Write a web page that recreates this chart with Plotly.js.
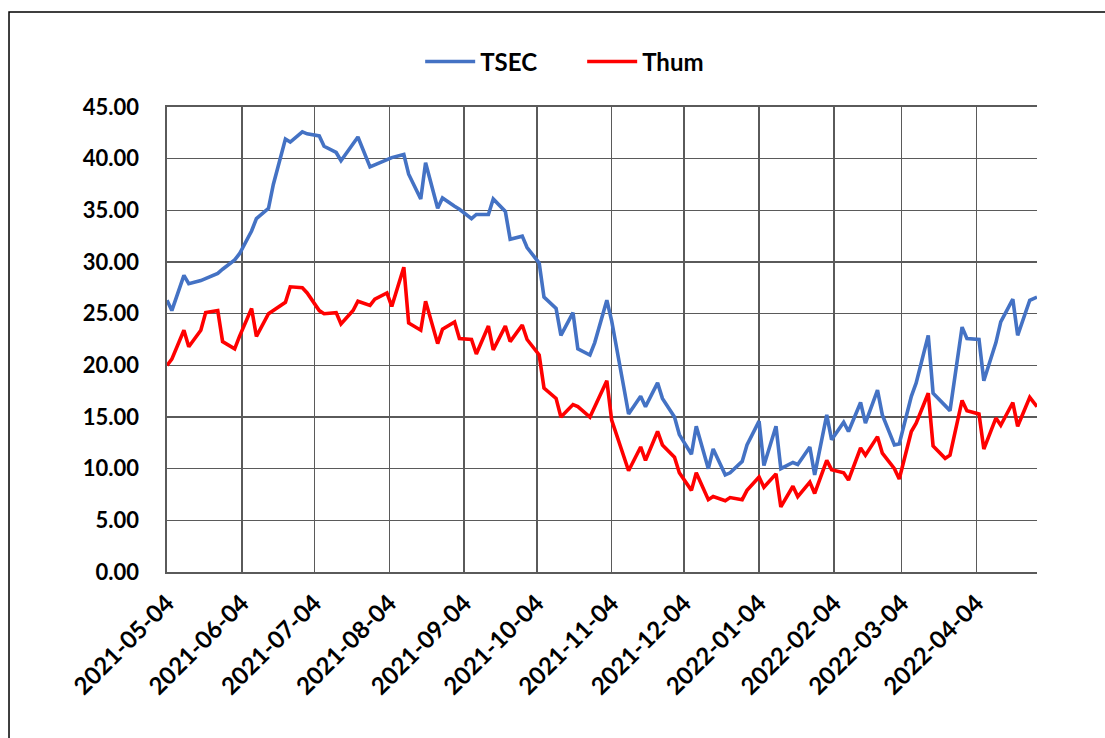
<!DOCTYPE html>
<html>
<head>
<meta charset="utf-8">
<script src="https://cdn.plot.ly/plotly-3.0.1.min.js"></script>
<style>
html, body { margin: 0; padding: 0; background: #ffffff; }
#chart { width: 1105px; height: 738px; }
</style>
</head>
<body>
<div id="chart"></div>
<script>
const dates = [
  "2021-05-04","2021-05-06","2021-05-11","2021-05-13","2021-05-18","2021-05-20","2021-05-25","2021-05-27",
  "2021-06-01","2021-06-03","2021-06-08","2021-06-10","2021-06-15","2021-06-17","2021-06-22","2021-06-24","2021-06-29",
  "2021-07-01","2021-07-06","2021-07-08","2021-07-13","2021-07-15","2021-07-20","2021-07-22","2021-07-27","2021-07-29",
  "2021-08-03","2021-08-05","2021-08-10","2021-08-12","2021-08-17","2021-08-19","2021-08-24","2021-08-26","2021-08-31",
  "2021-09-02","2021-09-07","2021-09-09","2021-09-14","2021-09-16","2021-09-21","2021-09-23","2021-09-28","2021-09-30",
  "2021-10-05","2021-10-07","2021-10-12","2021-10-14","2021-10-19","2021-10-21","2021-10-26","2021-10-28",
  "2021-11-02","2021-11-04","2021-11-09","2021-11-11","2021-11-16","2021-11-18","2021-11-23","2021-11-25","2021-11-30",
  "2021-12-02","2021-12-07","2021-12-09","2021-12-14","2021-12-16","2021-12-21","2021-12-23","2021-12-28","2021-12-30",
  "2022-01-04","2022-01-06","2022-01-11","2022-01-13","2022-01-18","2022-01-20","2022-01-25","2022-01-27",
  "2022-02-01","2022-02-03","2022-02-08","2022-02-10","2022-02-15","2022-02-17","2022-02-22","2022-02-24",
  "2022-03-01","2022-03-03","2022-03-08","2022-03-10","2022-03-15","2022-03-17","2022-03-22","2022-03-24","2022-03-29","2022-03-31",
  "2022-04-05","2022-04-07","2022-04-12","2022-04-14","2022-04-19","2022-04-21","2022-04-26","2022-04-29"
];

const tsec = [
  26.3, 25.3, 28.7, 27.9, 28.2, 28.4, 28.9, 29.3,
  30.2, 30.8, 33.0, 34.2, 35.2, 37.5, 41.9, 41.6, 42.6,
  42.4, 42.2, 41.2, 40.6, 39.8, 41.5, 42.1, 39.2, 39.4,
  39.9, 40.1, 40.4, 38.5, 36.1, 39.6, 35.2, 36.2, 35.4,
  35.1, 34.2, 34.6, 34.6, 36.1, 34.9, 32.2, 32.5, 31.4,
  29.9, 26.6, 25.5, 22.9, 25.1, 21.6, 21.0, 22.2,
  26.3, 24.3, 17.9, 15.3, 17.0, 16.0, 18.3, 16.8, 15.0,
  13.3, 11.4, 14.1, 10.0, 11.9, 9.4, 9.6, 10.7, 12.3,
  14.6, 10.3, 14.1, 10.0, 10.6, 10.4, 12.1, 9.4,
  15.2, 12.8, 14.5, 13.6, 16.4, 14.4, 17.6, 15.2,
  12.3, 12.4, 17.0, 18.3, 22.9, 17.3, 16.1, 15.6, 23.7, 22.6,
  22.5, 18.5, 22.2, 24.2, 26.4, 22.9, 26.3, 26.6
];

const thum = [
  20.0, 20.6, 23.4, 21.8, 23.4, 25.1, 25.3, 22.3,
  21.6, 22.8, 25.5, 22.8, 25.0, 25.3, 26.1, 27.6, 27.5,
  27.0, 25.3, 25.0, 25.1, 24.0, 25.3, 26.2, 25.8, 26.4,
  27.0, 25.7, 29.5, 24.1, 23.4, 26.2, 22.1, 23.5, 24.2,
  22.6, 22.5, 21.1, 23.8, 21.5, 23.8, 22.3, 23.9, 22.5,
  21.0, 17.8, 16.8, 15.0, 16.2, 16.0, 15.0, 16.0,
  18.5, 14.7, 11.3, 9.8, 12.1, 10.8, 13.6, 12.3, 11.1,
  9.6, 7.9, 9.6, 7.0, 7.3, 6.9, 7.2, 7.0, 7.9,
  9.2, 8.2, 9.5, 6.3, 8.3, 7.3, 8.7, 7.6,
  10.8, 9.9, 9.6, 8.9, 12.0, 11.3, 13.1, 11.5,
  10.0, 9.0, 13.6, 14.4, 17.3, 12.2, 11.0, 11.3, 16.6, 15.6,
  15.3, 11.9, 14.9, 14.2, 16.4, 14.1, 16.9, 16.0
];

const tickDates = [
  "2021-05-04","2021-06-04","2021-07-04","2021-08-04","2021-09-04","2021-10-04",
  "2021-11-04","2021-12-04","2022-01-04","2022-02-04","2022-03-04","2022-04-04"
];
const yTicks = [0, 5, 10, 15, 20, 25, 30, 35, 40, 45];
const yTickText = ["0.00","5.00","10.00","15.00","20.00","25.00","30.00","35.00","40.00","45.00"];

const FONT = "Lato, 'Liberation Sans', Arial, sans-serif";
const GRID = "#5a5a5a";

const traces = [
  { x: dates, y: tsec, name: "TSEC", type: "scatter", mode: "lines",
    line: { color: "#4472C4", width: 3.6 } },
  { x: dates, y: thum, name: "Thum", type: "scatter", mode: "lines",
    line: { color: "#FF0000", width: 3.6 } }
];

const layout = {
  width: 1105, height: 738,
  margin: { l: 167, r: 68, t: 107, b: 166 },
  paper_bgcolor: "#ffffff", plot_bgcolor: "#ffffff",
  font: { family: FONT, color: "#000000" },
  showlegend: true,
  legend: {
    orientation: "h", x: 0.291, xanchor: "left", y: 1.097, yanchor: "middle",
    font: { family: FONT, size: 24, weight: 700, color: "#000000" },
    entrywidth: 97, entrywidthmode: "pixels",
    itemwidth: 50
  },
  xaxis: {
    type: "date",
    range: ["2021-05-04", "2022-04-29"],
    tickmode: "array", tickvals: tickDates, ticktext: tickDates,
    tickangle: -45,
    tickfont: { family: FONT, size: 24, weight: 700, color: "#000000" },
    ticks: "", ticklabelstandoff: 6,
    showgrid: true, gridcolor: GRID, gridwidth: 1.6,
    showline: true, mirror: true, linecolor: GRID, linewidth: 1.6,
    zeroline: false, fixedrange: true
  },
  yaxis: {
    range: [0, 45],
    tickmode: "array", tickvals: yTicks, ticktext: yTickText,
    tickfont: { family: FONT, size: 22, weight: 700, color: "#000000" },
    ticks: "", ticklabelstandoff: 22,
    showgrid: true, gridcolor: GRID, gridwidth: 1.6,
    showline: true, linecolor: GRID, linewidth: 1.6,
    zeroline: false, fixedrange: true
  },
  shapes: [
    { type: "rect", xref: "paper", yref: "paper",
      x0: -0.1816, x1: 1.09, y0: -0.40, y1: 1.2043,
      line: { color: "#000000", width: 1.5 }, fillcolor: "rgba(0,0,0,0)", layer: "above" }
  ]
};

Plotly.newPlot("chart", traces, layout, { displayModeBar: false, staticPlot: true });
</script>
</body>
</html>
